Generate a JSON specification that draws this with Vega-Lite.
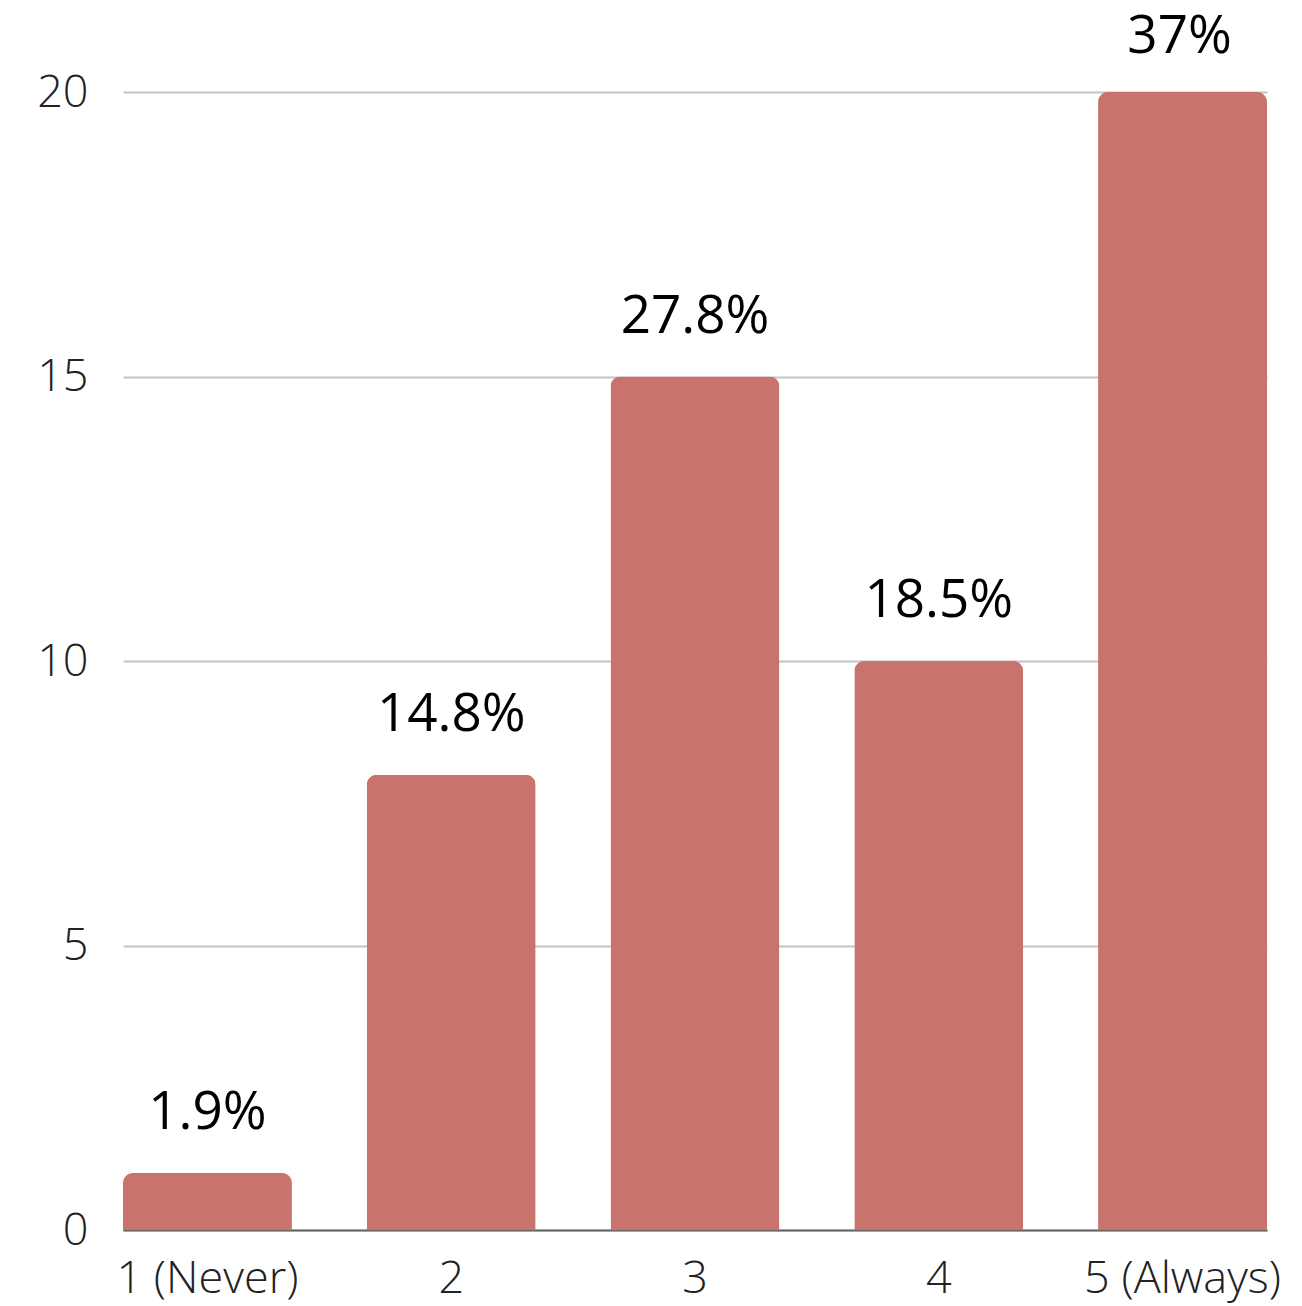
{
  "$schema": "https://vega.github.io/schema/vega-lite/v6.json",
  "autosize": "none",
  "width": 1144,
  "height": 1138,
  "padding": {"left": 123, "top": 92, "right": 35, "bottom": 76},
  "background": "white",
  "config": {"view": {"stroke": null}, "font": "Open Sans"},
  "data": {"values": [
    {"rating": "1 (Never)", "count": 1, "label": "1.9%"},
    {"rating": "2", "count": 8, "label": "14.8%"},
    {"rating": "3", "count": 15, "label": "27.8%"},
    {"rating": "4", "count": 10, "label": "18.5%"},
    {"rating": "5 (Always)", "count": 20, "label": "37%"}
  ]},
  "encoding": {
    "x": {"field": "rating", "type": "nominal", "sort": null,
      "scale": {"paddingInner": 0.307, "paddingOuter": 0},
      "axis": {"title": null, "labelAngle": 0, "ticks": false, "domain": true, "domainColor": "#666666", "domainWidth": 2,
        "labelFont": "Open Sans", "labelFontWeight": 300, "labelFontSize": 45, "labelColor": "#222222", "labelPadding": 26, "labelLimit": 0, "labelOverlap": false, "grid": false}},
    "y": {"field": "count", "type": "quantitative",
      "scale": {"domain": [0, 20], "nice": false},
      "axis": {"title": null, "values": [0, 5, 10, 15, 20], "ticks": false, "domain": false, "grid": true, "gridColor": "#c4c4c4", "gridWidth": 2,
        "labelFont": "Open Sans", "labelFontWeight": 300, "labelFontSize": 45, "labelColor": "#222222", "labelPadding": 35}}
  },
  "layer": [
    {"mark": {"type": "bar", "color": "#C8736C", "cornerRadiusTopLeft": 10, "cornerRadiusTopRight": 10}},
    {"transform": [{"filter": "datum.count < 20"}],
      "mark": {"type": "text", "align": "center", "baseline": "alphabetic", "dy": -44, "fontSize": 53, "font": "Open Sans", "color": "#000000"},
      "encoding": {"text": {"field": "label"}}},
    {"transform": [{"filter": "datum.count >= 20"}],
      "mark": {"type": "text", "align": "center", "baseline": "alphabetic", "dy": -39, "dx": -3, "fontSize": 53, "font": "Open Sans", "color": "#000000"},
      "encoding": {"text": {"field": "label"}}}
  ]
}
